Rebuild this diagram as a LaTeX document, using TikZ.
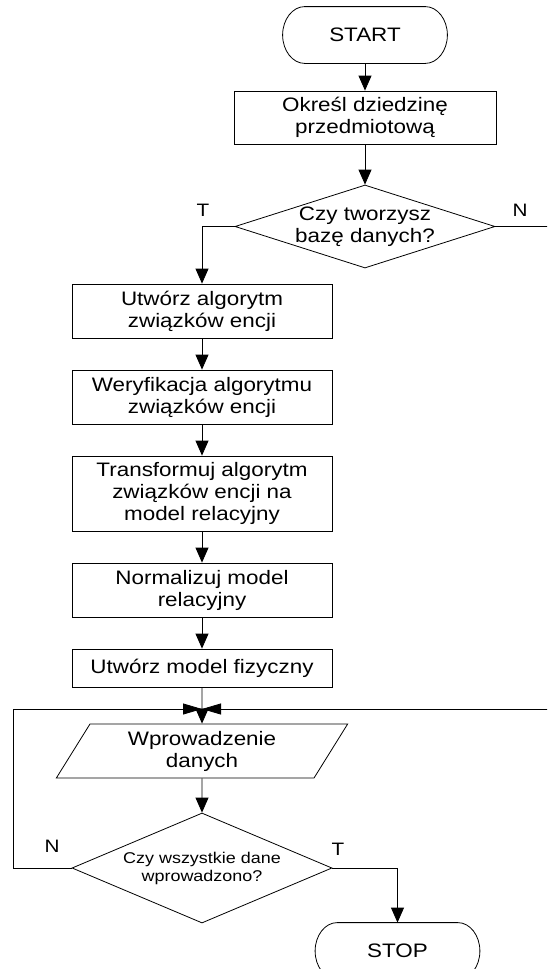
\documentclass[tikz,border=0pt]{standalone}
\usepackage{fontspec}
\setmainfont{Liberation Sans}[FakeStretch=1.15]
\usetikzlibrary{shapes.geometric,arrows.meta,calc}
\newcommand\termoutline[1]{%
 \draw ($(#1.north west)+(22,0)$) -- ($(#1.north east)+(-22,0)$)
   .. controls ($(#1.north east)+(-9.9,0)$) and ($(#1.east)+(0,-15.5)$) .. (#1.east)
   .. controls ($(#1.east)+(0,15.5)$) and ($(#1.south east)+(-9.9,0)$) .. ($(#1.south east)+(-22,0)$)
   -- ($(#1.south west)+(22,0)$)
   .. controls ($(#1.south west)+(9.9,0)$) and ($(#1.west)+(0,15.5)$) .. (#1.west)
   .. controls ($(#1.west)+(0,-15.5)$) and ($(#1.north west)+(9.9,0)$) .. cycle;}
\begin{document}
\begin{tikzpicture}[x=1pt,y=-1pt, line width=0.8pt,
  every node/.style={inner sep=0pt, align=center, font=\fontsize{19.5}{22}\selectfont},
  proc/.style={draw, minimum width=260pt},
  arr/.style={-{Triangle[length=15pt,width=13pt]}},
  harr/.style={-{Triangle[length=19pt,width=11pt]}},
  term/.style={minimum width=164pt, minimum height=56pt},
  lbl/.style={font=\fontsize{18}{20}\selectfont}]
\useasboundingbox (0,0) rectangle (547,969);
\clip (0,0) rectangle (547,969);

% nodes
\node[term] (start) at (365,35) {START};
\termoutline{start}
\node[proc, minimum width=262pt, minimum height=53pt] (b1) at (365,117.5) {Określ dziedzinę\\przedmiotową};
\node[diamond, draw, minimum width=260pt, minimum height=83pt] (d1) at (365,226.5) {};
\node (d1t) at (d1) {Czy tworzysz\\bazę danych?};
\node[proc, minimum height=54pt] (b2) at (202,311) {Utwórz algorytm\\związków encji};
\node[proc, minimum height=54pt] (b3) at (202,397) {Weryfikacja algorytmu\\związków encji};
\node[proc, minimum height=75pt] (b4) at (202,493.5) {Transformuj algorytm\\związków encji na\\model relacyjny};
\node[proc, minimum height=54pt] (b5) at (202,590) {Normalizuj model\\relacyjny};
\node[proc, minimum height=38pt] (b6) at (202,668) {Utwórz model fizyczny};
\node[trapezium, draw, trapezium left angle=61, trapezium right angle=119,
      trapezium stretches=true, minimum width=292pt, minimum height=54pt] (p) at (202,751) {Wprowadzenie\\danych};
\node[diamond, draw, minimum width=260pt, minimum height=110pt] (d2) at (202,868) {};
\node[font=\fontsize{15.6}{18}\selectfont] (d2t) at (d2) {Czy wszystkie dane\\wprowadzono?};
\node[term] (stop) at (397.5,951) {STOP};
\termoutline{stop}

% labels
\node[lbl] (t1) at (203,210) {T};
\node[lbl] (n1) at (520,210) {N};
\node[lbl] (n2) at (52,846) {N};
\node[lbl] (t2) at (338,849) {T};

% coordinates
\coordinate (m) at (202,709);
\coordinate (rin) at (552,709);
\coordinate (nout) at (552,226.5);

% connectors
\draw[arr] (start.south) -- (b1.north);
\draw[arr] (b1.south) -- (d1.north);
\draw[arr] (d1.west) -| (b2.north);
\draw (d1.east) -- (nout);
\draw[arr] (b2.south) -- (b3.north);
\draw[arr] (b3.south) -- (b4.north);
\draw[arr] (b4.south) -- (b5.north);
\draw[arr] (b5.south) -- (b6.north);
\draw[arr] (b6.south) -- (p.north);
\draw[arr] (p.south) -- (d2.north);
\draw[harr] (d2.west) -- ++(-58,0) |- (m);
\draw[harr] (rin) -- (m);
\draw[arr] (d2.east) -| (stop.north);
\end{tikzpicture}
\end{document}
